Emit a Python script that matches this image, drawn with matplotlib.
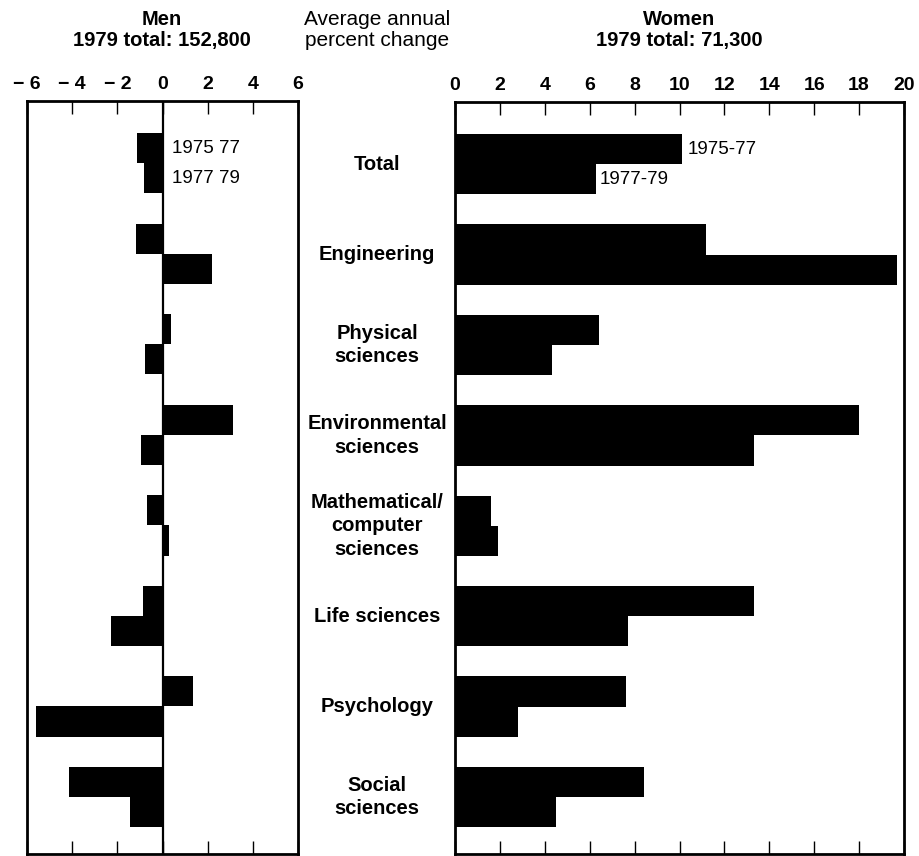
import matplotlib.pyplot as plt
from matplotlib import transforms

plt.rcParams['font.family'] = ['Liberation Sans', 'DejaVu Sans']

fields = ["Total", "Engineering", "Physical\nsciences", "Environmental\nsciences",
          "Mathematical/\ncomputer\nsciences", "Life sciences", "Psychology", "Social\nsciences"]
men_7577 = [-1.15, -1.18, 0.38, 3.1, -0.68, -0.85, 1.34, -4.14]
men_7779 = [-0.82, 2.2, -0.78, -0.97, 0.3, -2.26, -5.6, -1.44]
women_7577 = [10.1, 11.2, 6.4, 18.0, 1.6, 13.3, 7.6, 8.4]
women_7779 = [6.3, 19.7, 4.3, 13.3, 1.9, 7.7, 2.8, 4.5]
men_ticks = [-6, -4, -2, 0, 2, 4, 6]
men_tick_labels = ["\u2212 6", "\u2212 4", "\u2212 2", "0", "2", "4", "6"]
women_ticks = [0, 2, 4, 6, 8, 10, 12, 14, 16, 18, 20]

fig = plt.figure(figsize=(9.19, 8.56), dpi=100)
ax_m = fig.add_axes([27 / 919, 2 / 856, 271 / 919, 753 / 856])
ax_w = fig.add_axes([455 / 919, 2 / 856, 449 / 919, 752 / 856])

pos = list(range(len(fields)))
h = 1 / 3
top_pos = [p - h / 2 for p in pos]
bot_pos = [p + h / 2 for p in pos]

ax_m.barh(top_pos, men_7577, height=h, color="black", linewidth=0)
ax_m.barh(bot_pos, men_7779, height=h, color="black", linewidth=0)
ax_m.axvline(0, color="black", lw=1.6)
ax_w.barh(top_pos, women_7577, height=h, color="black", linewidth=0)
ax_w.barh(bot_pos, women_7779, height=h, color="black", linewidth=0)

for ax, lim, ticks in [(ax_m, (-6, 6), men_ticks), (ax_w, (0, 20), women_ticks)]:
    ax.set_xlim(*lim)
    ax.set_ylim(7.63, -0.687)
    ax.set_yticks([])
    ax.set_xticks(ticks)
    ax.tick_params(axis="x", direction="in", top=True, bottom=True, labeltop=True,
                   labelbottom=False, length=9.5, width=1.0, pad=6, labelsize=14)
    for s in ax.spines.values():
        s.set_linewidth(2.0)
    for lab in ax.get_xticklabels():
        lab.set_fontweight("bold")

ax_m.set_xticklabels(men_tick_labels, fontweight="bold")

# series labels
ax_m.text(0.42, top_pos[0], "1975 77", fontsize=13.5, va="center", ha="left")
ax_m.text(0.42, bot_pos[0], "1977 79", fontsize=13.5, va="center", ha="left")
ax_w.text(women_7577[0] + 0.25, top_pos[0], "1975-77", fontsize=13.5, va="center", ha="left")
ax_w.text(women_7779[0] + 0.15, bot_pos[0], "1977-79", fontsize=13.5, va="center", ha="left")

# category labels in the middle
trans = transforms.blended_transform_factory(fig.transFigure, ax_w.transData)
for p, name in zip(pos, fields):
    fig.text(377 / 919, p, name, transform=trans, ha="center", va="center",
             fontsize=14.5, fontweight="bold", linespacing=1.3)

fig.text(162 / 919, 1 - 30 / 856, "Men\n1979 total: 152,800", ha="center", va="center",
         fontsize=14.5, fontweight="bold", linespacing=1.15)
fig.text(679 / 919, 1 - 30 / 856, "Women\n1979 total: 71,300", ha="center", va="center",
         fontsize=14.5, fontweight="bold", linespacing=1.15)
fig.text(377 / 919, 1 - 30 / 856, "Average annual\npercent change", ha="center", va="center",
         fontsize=15, linespacing=1.15)

fig.savefig("out.png", dpi=100)
